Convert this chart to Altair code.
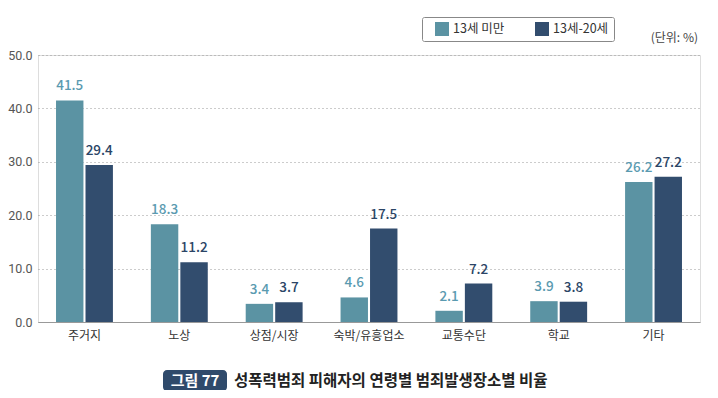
import altair as alt
import pandas as pd

categories = ["주거지", "노상", "상점/시장", "숙박/유흥업소", "교통수단", "학교", "기타"]
groups = ["13세 미만", "13세-20세"]
under13 = [41.5, 18.3, 3.4, 4.6, 2.1, 3.9, 26.2]
age13_20 = [29.4, 11.2, 3.7, 17.5, 7.2, 3.8, 27.2]
colors = ["#5b93a3", "#324d6e"]
label_colors = ["#5a9ab0", "#2b4566"]
y_ticks = [0, 10, 20, 30, 40, 50]

rows = []
for c, a, b in zip(categories, under13, age13_20):
    rows.append({"place": c, "group": groups[0], "value": a})
    rows.append({"place": c, "group": groups[1], "value": b})
df = pd.DataFrame(rows)

FONT = "Noto Sans CJK KR"

base = alt.Chart(df).encode(
    x=alt.X("place:N", sort=categories, title=None,
            scale=alt.Scale(paddingInner=0.4, paddingOuter=0.19),
            axis=alt.Axis(labelAngle=0, ticks=False, labelPadding=8, labelFontSize=12,
                          labelColor="#333", labelFont=FONT, domainColor="#999",
                          domainWidth=1.2, grid=False)),
    xOffset=alt.XOffset("group:N", sort=groups, scale=alt.Scale(paddingInner=0.07)),
    y=alt.Y("value:Q", title=None,
            scale=alt.Scale(domain=[0, 50], nice=False),
            axis=alt.Axis(values=y_ticks, format=".1f", ticks=False, domain=False,
                          labelPadding=6, labelFontSize=12.5, labelColor="#555",
                          labelFont="Roboto", gridDash=[1, 3], gridColor="#999",
                          gridWidth=1)),
)

bars = base.mark_bar().encode(
    color=alt.Color("group:N", sort=groups,
                    scale=alt.Scale(domain=groups, range=colors),
                    legend=alt.Legend(title=None, orient="none", legendX=384, legendY=-38,
                                      direction="horizontal", strokeColor="#888",
                                      padding=5, cornerRadius=2, symbolType="square",
                                      symbolSize=196, symbolStrokeWidth=0,
                                      labelFontSize=12.5, labelFont=FONT,
                                      labelColor="#333", columnPadding=22,
                                      symbolOffset=8, offset=0))
)

labels = base.mark_text(dy=-7, fontSize=13.5, fontWeight=500, font=FONT, baseline="bottom").encode(
    text=alt.Text("value:Q", format=".1f"),
    color=alt.condition(alt.datum.group == groups[0],
                        alt.value(label_colors[0]), alt.value(label_colors[1])),
)

one = alt.Data(values=[{}])
unit = alt.Chart(one).mark_text(font=FONT, fontSize=12, color="#444", align="right").encode(
    x=alt.value(660), y=alt.value(-17), text=alt.value("(단위: %)"))
badge = alt.Chart(one).mark_rect(cornerRadius=4, color="#2f4a6b").encode(
    x=alt.value(125), x2=alt.value(189), y=alt.value(315), y2=alt.value(336))
badge_text = alt.Chart(one).mark_text(font=FONT, fontSize=15, fontWeight="bold",
                                       color="white").encode(
    x=alt.value(157), y=alt.value(326), text=alt.value("그림 77"))
caption = alt.Chart(one).mark_text(font=FONT, fontSize=15.5, fontWeight="bold",
                                    color="#222", align="left").encode(
    x=alt.value(196), y=alt.value(326), text=alt.value("성폭력범죄 피해자의 연령별 범죄발생장소별 비율"))

chart = alt.layer(bars, labels, unit, badge, badge_text, caption).properties(
    width=662, height=267,
    autosize=alt.AutoSizeParams(type="none"),
    padding={"left": 30, "top": 47, "right": 10, "bottom": 68},
).configure_view(stroke=None).configure(background="white")

chart.save("out.html", embed_options={"renderer": "svg", "actions": False})
